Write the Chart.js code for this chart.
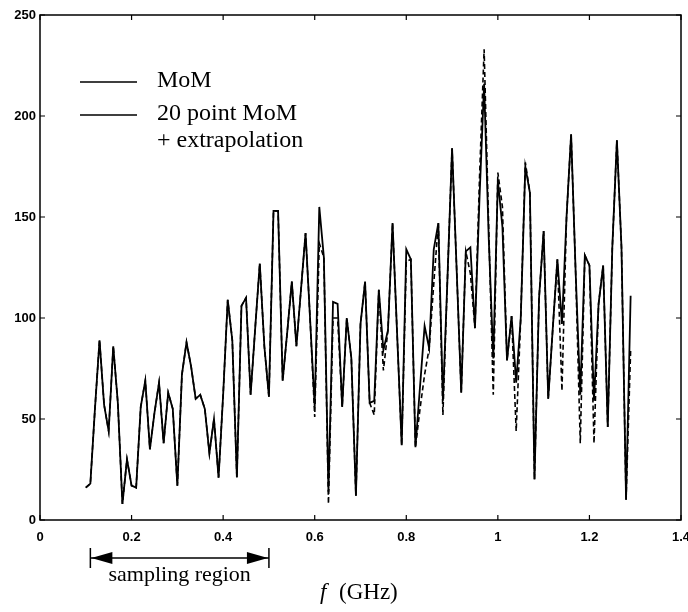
<!DOCTYPE html>
<html>
<head>
<meta charset="utf-8">
<script src="https://cdn.jsdelivr.net/npm/chart.js@4.4.0/dist/chart.umd.min.js"></script>
<style>
  html, body { margin: 0; padding: 0; background: #fff; }
  #wrap { width: 688px; height: 612px; }
</style>
</head>
<body>
<div id="wrap"><canvas id="chart" width="688" height="612"></canvas></div>
<script>
// frequency samples (GHz)
const freqs = [
    0.10, 0.11, 0.12, 0.13, 0.14, 0.15, 0.16, 0.17, 0.18, 0.19,
    0.20, 0.21, 0.22, 0.23, 0.24, 0.25, 0.26, 0.27, 0.28, 0.29,
    0.30, 0.31, 0.32, 0.33, 0.34, 0.35, 0.36, 0.37, 0.38, 0.39,
    0.40, 0.41, 0.42, 0.43, 0.44, 0.45, 0.46, 0.47, 0.48, 0.49,
    0.50, 0.51, 0.52, 0.53, 0.54, 0.55, 0.56, 0.57, 0.58, 0.59,
    0.60, 0.61, 0.62, 0.63, 0.64, 0.65, 0.66, 0.67, 0.68, 0.69,
    0.70, 0.71, 0.72, 0.73, 0.74, 0.75, 0.76, 0.77, 0.78, 0.79,
    0.80, 0.81, 0.82, 0.83, 0.84, 0.85, 0.86, 0.87, 0.88, 0.89,
    0.90, 0.91, 0.92, 0.93, 0.94, 0.95, 0.96, 0.97, 0.98, 0.99,
    1.00, 1.01, 1.02, 1.03, 1.04, 1.05, 1.06, 1.07, 1.08, 1.09,
    1.10, 1.11, 1.12, 1.13, 1.14, 1.15, 1.16, 1.17, 1.18, 1.19,
    1.20, 1.21, 1.22, 1.23, 1.24, 1.25, 1.26, 1.27, 1.28, 1.29
];

// full MoM
const momValues = [
    16, 18, 55, 89, 57, 44, 86, 58, 8, 30,
    17, 16, 56, 69, 35, 53, 68, 38, 63, 55,
    17, 72, 88, 76, 60, 62, 55, 33, 50, 21,
    62, 109, 89, 21, 106, 110, 62, 95, 127, 86,
    61, 153, 153, 69, 93, 118, 86, 114, 142, 99,
    56, 155, 130, 14, 108, 107, 56, 100, 80, 12,
    97, 118, 58, 59, 114, 84, 94, 147, 92, 37,
    134, 129, 36, 66, 96, 85, 134, 147, 59, 120,
    184, 124, 63, 133, 135, 95, 160, 216, 140, 80,
    168, 145, 79, 101, 68, 100, 175, 162, 20, 110,
    143, 60, 95, 129, 97, 150, 191, 122, 62, 131,
    126, 59, 107, 126, 46, 135, 188, 135, 10, 111
];

// 20 point MoM + extrapolation
const extrapValues = [
    16, 18, 55, 89, 57, 44, 86, 58, 8, 30,
    17, 16, 56, 69, 35, 53, 68, 38, 63, 55,
    17, 72, 88, 76, 60, 62, 55, 33, 50, 21,
    62, 109, 89, 21, 106, 110, 62, 95, 127, 86,
    61, 153, 153, 69, 93, 118, 86, 114, 142, 99,
    51, 137, 130, 8, 100, 100, 56, 100, 80, 12,
    97, 118, 58, 52, 114, 74, 94, 147, 92, 37,
    128, 129, 36, 55, 72, 85, 117, 147, 52, 120,
    184, 124, 63, 133, 122, 95, 170, 233, 145, 62,
    172, 155, 79, 101, 44, 100, 177, 162, 20, 110,
    143, 60, 95, 129, 64, 150, 191, 122, 38, 131,
    126, 38, 107, 126, 46, 135, 188, 135, 10, 84
];

const xTicks = [0, 0.2, 0.4, 0.6, 0.8, 1, 1.2, 1.4];
const yTicks = [0, 50, 100, 150, 200, 250];
const legendLabels = ['MoM', '20 point MoM', '+ extrapolation'];
const samplingRange = [0.11, 0.5];

const serif = '"Liberation Serif", "Times New Roman", serif';

const toPoints = (values) => values.map((v, i) => ({ x: freqs[i], y: v }));

// frame, inward ticks, legend and the annotations under the axis
const decorations = {
    id: 'decorations',
    afterDraw(chart) {
        const ctx = chart.ctx;
        const area = chart.chartArea;
        const xs = chart.scales.x;
        const ys = chart.scales.y;
        ctx.save();
        ctx.strokeStyle = '#000';
        ctx.fillStyle = '#000';

        ctx.lineWidth = 1.5;
        ctx.strokeRect(area.left, area.top, area.right - area.left, area.bottom - area.top);

        ctx.lineWidth = 1.2;
        ctx.beginPath();
        xTicks.forEach(t => {
            let px = xs.getPixelForValue(t);
            ctx.moveTo(px, area.bottom); ctx.lineTo(px, area.bottom - 5);
            ctx.moveTo(px, area.top); ctx.lineTo(px, area.top + 5);
        });
        yTicks.forEach(t => {
            let py = ys.getPixelForValue(t);
            ctx.moveTo(area.left, py); ctx.lineTo(area.left + 5, py);
            ctx.moveTo(area.right, py); ctx.lineTo(area.right - 5, py);
        });
        ctx.stroke();

        // legend
        ctx.lineWidth = 1.5;
        ctx.beginPath();
        ctx.moveTo(80, 82); ctx.lineTo(137, 82);
        ctx.moveTo(80, 115); ctx.lineTo(137, 115);
        ctx.stroke();
        ctx.font = `24px ${serif}`;
        ctx.textBaseline = 'alphabetic';
        ctx.textAlign = 'left';
        ctx.fillText(legendLabels[0], 157, 87);
        ctx.fillText(legendLabels[1], 157, 120);
        ctx.fillText(legendLabels[2], 157, 147);

        // sampling region arrow
        let x1 = xs.getPixelForValue(samplingRange[0]);
        let x2 = xs.getPixelForValue(samplingRange[1]);
        let ay = 558;
        ctx.lineWidth = 1.5;
        ctx.beginPath();
        ctx.moveTo(x1, ay - 10); ctx.lineTo(x1, ay + 10);
        ctx.moveTo(x2, ay - 10); ctx.lineTo(x2, ay + 10);
        ctx.moveTo(x1, ay); ctx.lineTo(x2, ay);
        ctx.stroke();
        ctx.beginPath();
        ctx.moveTo(x1 + 1, ay); ctx.lineTo(x1 + 22, ay - 6); ctx.lineTo(x1 + 22, ay + 6); ctx.closePath();
        ctx.moveTo(x2 - 1, ay); ctx.lineTo(x2 - 22, ay - 6); ctx.lineTo(x2 - 22, ay + 6); ctx.closePath();
        ctx.fill();

        ctx.font = `22px ${serif}`;
        ctx.textAlign = 'center';
        ctx.fillText('sampling region', (x1 + x2) / 2, 581);

        ctx.textAlign = 'left';
        ctx.font = `italic 23px ${serif}`;
        ctx.fillText('f', 320, 599);
        ctx.font = `23px ${serif}`;
        ctx.fillText('(GHz)', 339, 599);
        ctx.restore();
    }
};

new Chart(document.getElementById('chart').getContext('2d'), {
    type: 'line',
    data: {
        datasets: [{
            label: legendLabels[0],
            data: toPoints(momValues),
            borderColor: '#000',
            borderWidth: 1.8,
            pointRadius: 0,
            tension: 0,
            fill: false
        }, {
            label: legendLabels[1] + ' ' + legendLabels[2],
            data: toPoints(extrapValues),
            borderColor: '#000',
            borderWidth: 1.6,
            borderDash: [5, 3],
            pointRadius: 0,
            tension: 0,
            fill: false
        }]
    },
    options: {
        responsive: false,
        animation: false,
        devicePixelRatio: 1,
        layout: { padding: { top: 15, right: 7, left: 0, bottom: 0 } },
        plugins: {
            legend: { display: false },
            tooltip: { enabled: false },
            title: { display: false }
        },
        scales: {
            x: {
                type: 'linear',
                min: 0,
                max: 1.4,
                afterFit: (scale) => {
                    scale.height = 92;
                    scale.paddingLeft = 0;
                    scale.paddingRight = 0;
                },
                afterBuildTicks: (scale) => { scale.ticks = xTicks.map(v => ({ value: v })); },
                grid: { display: false, drawTicks: false },
                border: { display: false },
                ticks: {
                    padding: 10,
                    color: '#000',
                    font: { family: '"Liberation Sans", Arial, sans-serif', size: 13, weight: 'bold' },
                    maxRotation: 0,
                    callback: (v) => String(Number(v.toFixed(1)))
                }
            },
            y: {
                min: 0,
                max: 250,
                afterFit: (scale) => {
                    scale.width = 40;
                    scale.paddingTop = 0;
                    scale.paddingBottom = 0;
                },
                afterBuildTicks: (scale) => { scale.ticks = yTicks.map(v => ({ value: v })); },
                grid: { display: false, drawTicks: false },
                border: { display: false },
                ticks: {
                    padding: 4,
                    color: '#000',
                    font: { family: '"Liberation Sans", Arial, sans-serif', size: 13, weight: 'bold' }
                }
            }
        }
    },
    plugins: [decorations]
});
</script>
</body>
</html>
